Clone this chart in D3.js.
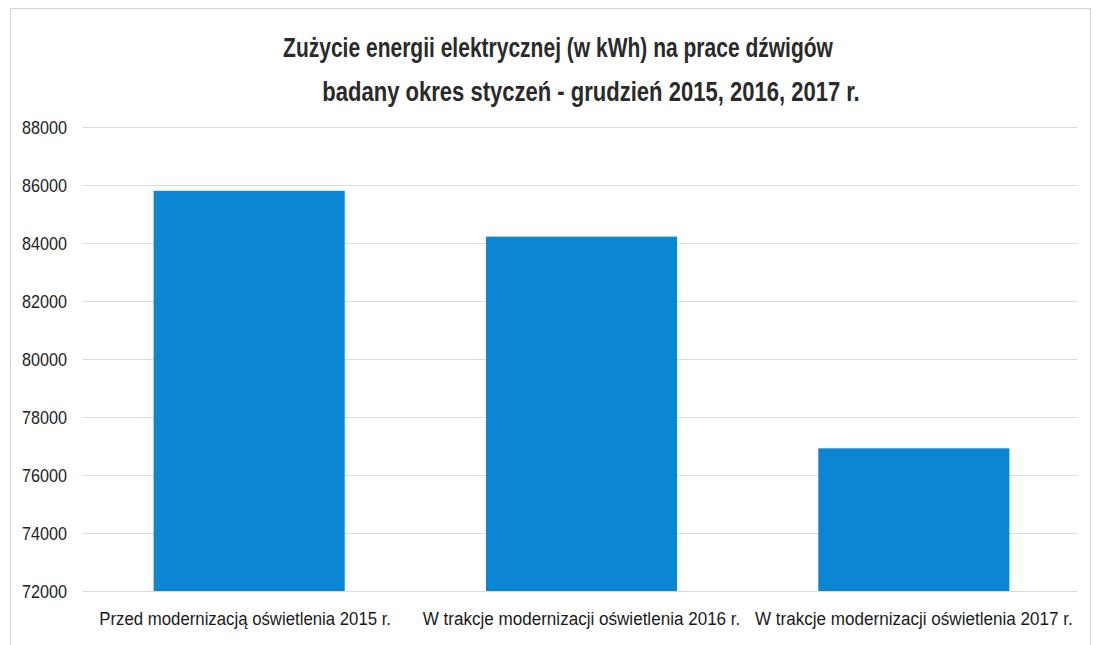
<!DOCTYPE html>
<html>
<head>
<meta charset="utf-8">
<script src="https://cdn.jsdelivr.net/npm/d3@7"></script>
<style>
  body { margin: 0; background: #fff; }
  svg { display: block; }
</style>
</head>
<body>
<div id="chart"></div>
<script>
const categories = [
  "Przed modernizacją oświetlenia 2015 r.",
  "W trakcje modernizacji oświetlenia 2016 r.",
  "W trakcje modernizacji oświetlenia 2017 r."
];
const values = [85800, 84220, 76920];
const yTicks = [72000, 74000, 76000, 78000, 80000, 82000, 84000, 86000, 88000];
const titleLines = [
  "Zużycie energii elektrycznej (w kWh) na prace dźwigów",
  "badany okres styczeń - grudzień 2015, 2016, 2017 r."
];

const W = 1101, H = 645;
const font = "'Liberation Sans', Arial, sans-serif";

// the original uses a narrow font: scale a text horizontally to a given width,
// anchored at (tx, ty)
function squeeze(node, w, tx, ty) {
  const s = w / node.getComputedTextLength();
  d3.select(node)
    .attr("x", 0)
    .attr("transform", `translate(${tx},${ty}) scale(${s},1)`);
}

const svg = d3.select("#chart")
  .append("svg")
  .attr("width", W)
  .attr("height", H);

// frame of the chart area
svg.append("rect")
  .attr("x", 10.5)
  .attr("y", 8.5)
  .attr("width", 1080)
  .attr("height", 660)
  .attr("fill", "none")
  .attr("stroke", "#d4d4d4");

const x = d3.scaleBand().domain(categories).range([83, 1080]).paddingInner(0.425).paddingOuter(0.2125);
const y = d3.scaleLinear().domain([72000, 88000]).range([591, 127]);

// gridlines
svg.append("g")
  .selectAll("line")
  .data(yTicks)
  .enter()
  .append("line")
  .attr("x1", 82)
  .attr("x2", 1078)
  .attr("y1", d => Math.round(y(d)) + 0.5)
  .attr("y2", d => Math.round(y(d)) + 0.5)
  .attr("stroke", "#dcdcdc")
  .attr("stroke-width", 1);

// bars
svg.selectAll(".bar")
  .data(values)
  .enter()
  .append("rect")
  .attr("class", "bar")
  .attr("x", (d, i) => x(categories[i]))
  .attr("y", d => y(d))
  .attr("width", x.bandwidth())
  .attr("height", d => y(72000) - y(d))
  .attr("fill", "#0a86d2");

// y axis labels
const yAxis = svg.append("g")
  .attr("transform", "translate(82,0)")
  .call(d3.axisLeft(y).tickValues(yTicks).tickFormat(d3.format("d")).tickSize(0).tickPadding(15));
yAxis.select(".domain").remove();
yAxis.selectAll("text")
  .style("font-family", font)
  .style("font-size", "19px")
  .style("fill", "#222")
  .each(function () { squeeze(this, 45, -15, 0); });

// x axis labels
const xAxis = svg.append("g")
  .attr("transform", "translate(0,591)")
  .call(d3.axisBottom(x).tickSize(0).tickPadding(21));
xAxis.select(".domain").remove();
xAxis.selectAll("text")
  .style("font-family", font)
  .style("font-size", "19px")
  .style("fill", "#1a1a1a")
  .each(function (d, i) { squeeze(this, i === 0 ? 292 : 318, i === 0 ? -4 : 0, 0); });

// title
svg.selectAll(".title")
  .data(titleLines)
  .enter()
  .append("text")
  .attr("class", "title")
  .attr("text-anchor", "middle")
  .style("font-family", font)
  .style("font-weight", "bold")
  .style("font-size", "27px")
  .style("fill", "#2a2a2a")
  .text(d => d)
  .each(function (d, i) {
    squeeze(this, i === 0 ? 550 : 538, i === 0 ? 558 : 591, 57 + i * 44);
  });
</script>
</body>
</html>
